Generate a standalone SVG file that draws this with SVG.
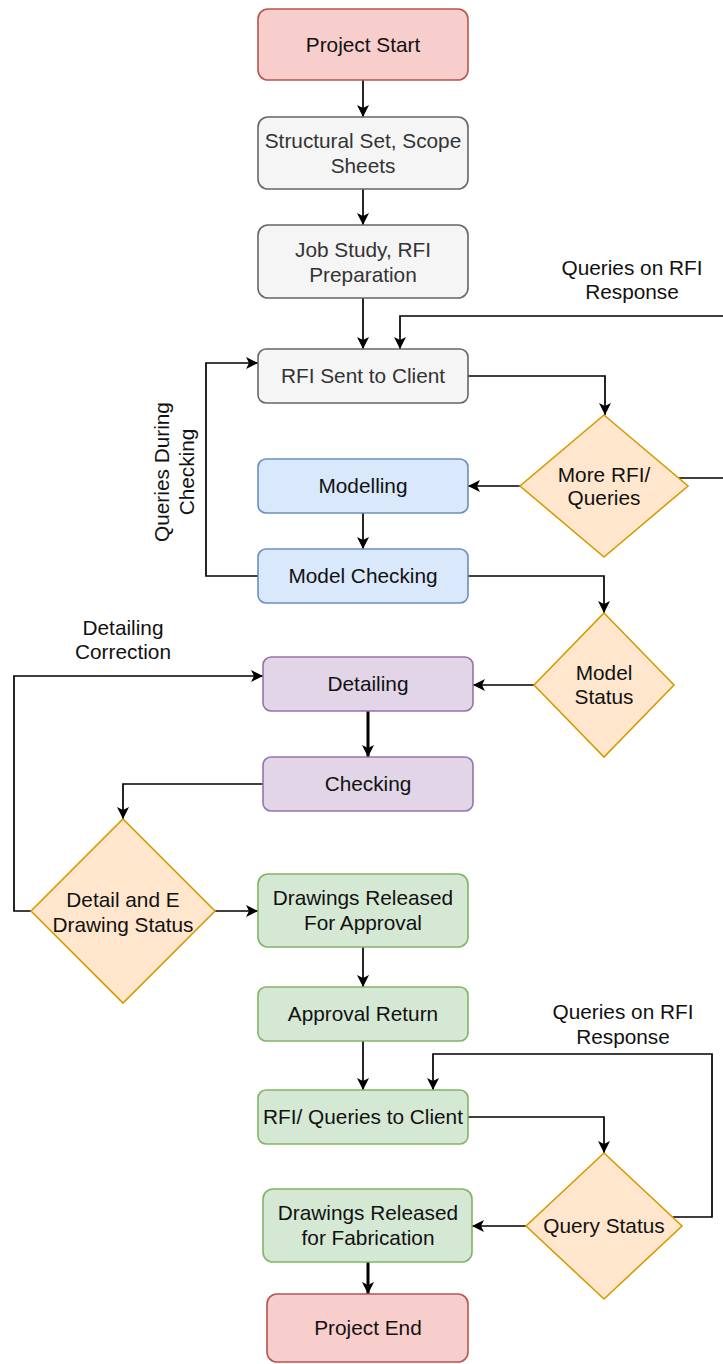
<svg xmlns="http://www.w3.org/2000/svg" width="723" height="1364" viewBox="0 0 723 1364">
<defs>
<marker id="arr" markerUnits="userSpaceOnUse" markerWidth="14" markerHeight="14" refX="12" refY="6" orient="auto" viewBox="0 0 14 12">
<path d="M0,0 L12,6 L0,12 L3,6 z" fill="#000"/>
</marker>
<style>
text{font-family:"Liberation Sans",Arial,Helvetica,sans-serif;font-size:20.8px;text-anchor:middle;fill:#111}
.red rect{fill:#f8cecc;stroke:#b85450;stroke-width:1.6}
.grey rect{fill:#f5f5f5;stroke:#666666;stroke-width:1.6}
.grey text{fill:#333333}
.blue rect{fill:#dae8fc;stroke:#6c8ebf;stroke-width:1.6}
.purple rect{fill:#e1d5e7;stroke:#9673a6;stroke-width:1.6}
.green rect{fill:#d5e8d4;stroke:#82b366;stroke-width:1.6}
.dia polygon{fill:#ffe6cc;stroke:#d79b00;stroke-width:1.6}
.c path{fill:none;stroke:#000;stroke-width:1.7;marker-end:url(#arr)}
.c path.nm{marker-end:none}
.c path.thick{stroke-width:3}
</style>
</defs>
<rect width="723" height="1364" fill="#fff"/>

<g id="connectors" class="c">
<path d="M363,80 V117"/>
<path d="M363,189 V225"/>
<path d="M363,298 V349"/>
<path d="M468,376 H605 V415"/>
<path d="M723,316 H400 V349"/>
<path class="nm" d="M679,478 H723"/>
<path d="M520,486 H468"/>
<path d="M363,513 V549"/>
<path d="M258,576 H206 V363 H258"/>
<path d="M468,576 H604 V613"/>
<path d="M534,685 H473"/>
<path class="thick" d="M368,711 V757"/>
<path d="M263,784 H123 V819"/>
<path d="M32,911 H14 V676 H263"/>
<path d="M215,911 H258"/>
<path d="M363,947 V987"/>
<path d="M363,1041 V1090"/>
<path d="M468,1117 H604 V1153"/>
<path d="M673,1217 H712 V1054 H433 V1090"/>
<path d="M526,1226 H472"/>
<path class="thick" d="M368,1262 V1294"/>
</g>

<g id="labels">
<text x="632" y="275">Queries on RFI</text>
<text x="632" y="299">Response</text>
<g transform="translate(0,472) rotate(-90)">
<text x="0" y="169">Queries During</text>
<text x="0" y="194">Checking</text>
</g>
<text x="123" y="635">Detailing</text>
<text x="123" y="659">Correction</text>
<text x="623" y="1019">Queries on RFI</text>
<text x="623" y="1044">Response</text>
</g>

<g id="project-start" class="red"><rect x="258" y="9" width="210" height="71" rx="10"/><text x="363" y="52">Project Start</text></g>
<g id="structural-set" class="grey"><rect x="258" y="117" width="210" height="72" rx="10"/><text x="363" y="148">Structural Set, Scope</text><text x="363" y="173">Sheets</text></g>
<g id="job-study" class="grey"><rect x="258" y="225" width="210" height="73" rx="10"/><text x="363" y="257">Job Study, RFI</text><text x="363" y="282">Preparation</text></g>
<g id="rfi-sent" class="grey"><rect x="258" y="349" width="210" height="54" rx="8"/><text x="363" y="383">RFI Sent to Client</text></g>
<g id="modelling" class="blue"><rect x="258" y="459" width="210" height="54" rx="8"/><text x="363" y="493">Modelling</text></g>
<g id="model-checking" class="blue"><rect x="258" y="549" width="210" height="54" rx="8"/><text x="363" y="583">Model Checking</text></g>
<g id="more-rfi" class="dia"><polygon points="604,415 688,486 604,557 520,486"/><text x="604" y="482">More RFI/</text><text x="604" y="505">Queries</text></g>
<g id="model-status" class="dia"><polygon points="604,613 674,685 604,757 534,685"/><text x="604" y="680">Model</text><text x="604" y="704">Status</text></g>
<g id="detailing" class="purple"><rect x="263" y="657" width="210" height="54" rx="8"/><text x="368" y="691">Detailing</text></g>
<g id="checking" class="purple"><rect x="263" y="757" width="210" height="54" rx="8"/><text x="368" y="791">Checking</text></g>
<g id="detail-status" class="dia"><polygon points="123,819 215,911 123,1003 31,911"/><text x="123" y="907">Detail and E</text><text x="123" y="932">Drawing Status</text></g>
<g id="released-approval" class="green"><rect x="258" y="874" width="210" height="73" rx="10"/><text x="363" y="905">Drawings Released</text><text x="363" y="930">For Approval</text></g>
<g id="approval-return" class="green"><rect x="258" y="987" width="210" height="54" rx="8"/><text x="363" y="1021">Approval Return</text></g>
<g id="rfi-queries" class="green"><rect x="258" y="1090" width="210" height="54" rx="8"/><text x="363" y="1124">RFI/ Queries to Client</text></g>
<g id="query-status" class="dia"><polygon points="604,1153 682,1226 604,1299 526,1226"/><text x="604" y="1233">Query Status</text></g>
<g id="released-fabrication" class="green"><rect x="263" y="1189" width="209" height="73" rx="10"/><text x="368" y="1220">Drawings Released</text><text x="368" y="1245">for Fabrication</text></g>
<g id="project-end" class="red"><rect x="267" y="1294" width="201" height="68" rx="10"/><text x="368" y="1335">Project End</text></g>
</svg>
